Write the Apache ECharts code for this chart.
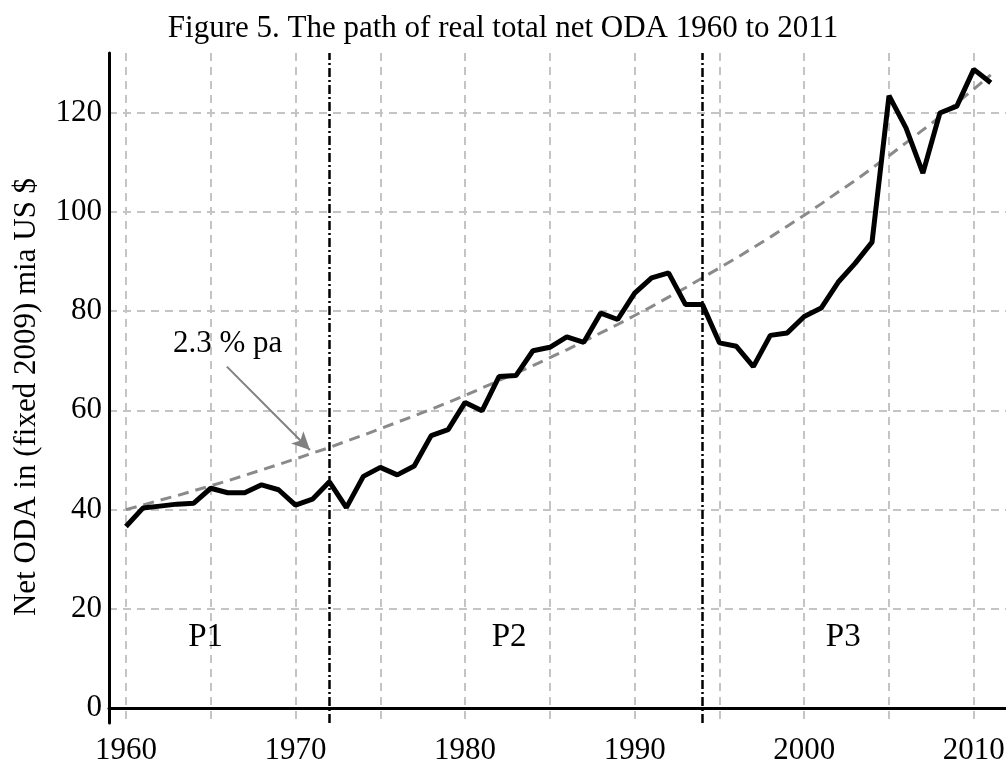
<!DOCTYPE html>
<html>
<head>
<meta charset="utf-8">
<title>Figure 5</title>
<script src="https://cdn.jsdelivr.net/npm/echarts@6/dist/echarts.min.js"></script>
<style>
  html, body { margin: 0; padding: 0; background: #fff; }
  #ch-main { width: 1006px; height: 763px; }
</style>
</head>
<body>
<div id="ch-main"></div>
<script>
// years 1960 - 2011
var years = [1960, 1961, 1962, 1963, 1964, 1965, 1966, 1967, 1968, 1969,
    1970, 1971, 1972, 1973, 1974, 1975, 1976, 1977, 1978, 1979,
    1980, 1981, 1982, 1983, 1984, 1985, 1986, 1987, 1988, 1989,
    1990, 1991, 1992, 1993, 1994, 1995, 1996, 1997, 1998, 1999,
    2000, 2001, 2002, 2003, 2004, 2005, 2006, 2007, 2008, 2009,
    2010, 2011];

// real total net ODA, bn US $ (fixed 2009)
var oda = [36.6, 40.3, 40.7, 41.1, 41.3, 44.3, 43.4, 43.4, 45.0, 44.0,
    40.9, 42.1, 45.6, 40.4, 46.7, 48.5, 47.0, 48.8, 54.9, 56.1,
    61.6, 59.9, 66.8, 67.0, 72.0, 72.7, 74.8, 73.7, 79.6, 78.3,
    83.6, 86.7, 87.7, 81.3, 81.3, 73.6, 72.9, 68.8, 75.1, 75.6,
    78.9, 80.6, 85.8, 89.6, 93.9, 123.4, 116.9, 107.8, 119.9, 121.3,
    128.7, 126.0];

// the 2.3 % pa trend path
var trend = [40.0, 40.9, 41.9, 42.8, 43.8, 44.8, 45.8, 46.9, 48.0, 49.1,
    50.2, 51.4, 52.5, 53.8, 55.0, 56.3, 57.6, 58.9, 60.2, 61.6,
    63.0, 64.5, 66.0, 67.5, 69.0, 70.6, 72.2, 73.9, 75.6, 77.3,
    79.1, 80.9, 82.8, 84.7, 86.7, 88.7, 90.7, 92.8, 94.9, 97.1,
    99.3, 101.6, 104.0, 106.3, 108.8, 111.3, 113.9, 116.5, 119.1, 121.9,
    124.7, 127.6];

// period breaks and labels
var periodBreaks = [1972, 1994];
var periodNames = ['P1', 'P2', 'P3'];
var periodLabelPos = [[1964.7, 14.2], [1982.6, 14.2], [2002.3, 14.2]];

// tick values
var xGridTicks = [1960, 1965, 1970, 1975, 1980, 1985, 1990, 1995, 2000, 2005, 2010];
var xLabelTicks = [1960, 1970, 1980, 1990, 2000, 2010];
var yTicks = [0, 20, 40, 60, 80, 100, 120];

var serif = '"Liberation Serif", "Times New Roman", serif';

var myChart = echarts.init(document.getElementById('ch-main'));

var gridLine = {
    show: true,
    lineStyle: {color: '#c4c4c4', width: 2, type: [8, 6]}
};

var option = {
    animation: false,
    backgroundColor: '#fff',
    title: {
        text: 'Figure 5. The path of real total net ODA 1960 to 2011',
        left: 'center',
        top: 8,
        textStyle: {fontFamily: serif, fontSize: 31, fontWeight: 'normal', color: '#000'}
    },
    grid: {left: 109, right: 0, top: 53, bottom: 40, outerBoundsMode: 'none'},
    xAxis: {
        type: 'value',
        min: 1959,
        max: 2011.9,
        axisLine: {onZero: true, lineStyle: {color: '#000', width: 3}},
        axisTick: {show: false, customValues: xGridTicks},
        axisLabel: {
            customValues: xLabelTicks,
            margin: 12,
            fontFamily: serif,
            fontSize: 31,
            color: '#000',
            formatter: function (v) { return String(v); }
        },
        splitLine: gridLine
    },
    yAxis: {
        type: 'value',
        min: -3,
        max: 132,
        name: 'Net ODA in (fixed 2009) mia US $',
        nameLocation: 'middle',
        nameGap: 67,
        nameTextStyle: {fontFamily: serif, fontSize: 31, color: '#000', padding: [0, 18, 0, 0]},
        axisLine: {show: true, lineStyle: {color: '#000', width: 3}},
        axisTick: {show: false, customValues: yTicks},
        axisLabel: {
            customValues: yTicks,
            margin: 7,
            fontFamily: serif,
            fontSize: 31,
            color: '#000'
        },
        splitLine: gridLine
    },
    series: [
        {
            name: 'trend',
            type: 'line',
            data: years.map(function (y, i) { return [y, trend[i]]; }),
            showSymbol: false,
            lineStyle: {color: '#8a8a8a', width: 3, type: [11, 7]},
            z: 3,
            markLine: {
                silent: true,
                symbol: ['none', 'arrow'],
                symbolSize: [13, 18],
                lineStyle: {color: '#808080', width: 2, type: 'solid'},
                label: {show: false},
                data: [[{coord: [1965.95, 68.8]}, {coord: [1970.85, 52.0]}]]
            },
            markPoint: {
                silent: true,
                symbol: 'circle',
                symbolSize: 0,
                label: {
                    show: true,
                    position: 'inside',
                    formatter: '2.3 % pa',
                    fontFamily: serif,
                    fontSize: 31,
                    color: '#000'
                },
                data: [{coord: [1966.0, 73.3]}]
            }
        },
        {
            name: 'ODA',
            type: 'line',
            data: years.map(function (y, i) { return [y, oda[i]]; }),
            showSymbol: false,
            lineStyle: {color: '#000', width: 5},
            z: 4,
            markLine: {
                silent: true,
                symbol: 'none',
                lineStyle: {color: '#000', width: 2.5, type: [9, 3, 2, 3]},
                label: {show: false},
                data: periodBreaks.map(function (y) { return {xAxis: y}; })
            },
            markPoint: {
                silent: true,
                symbol: 'circle',
                symbolSize: 0,
                label: {
                    show: true,
                    position: 'inside',
                    fontFamily: serif,
                    fontSize: 33,
                    color: '#000',
                    formatter: function (p) { return p.name; }
                },
                data: periodNames.map(function (n, i) {
                    return {name: n, coord: periodLabelPos[i]};
                })
            }
        }
    ]
};

myChart.setOption(option);
</script>
</body>
</html>
